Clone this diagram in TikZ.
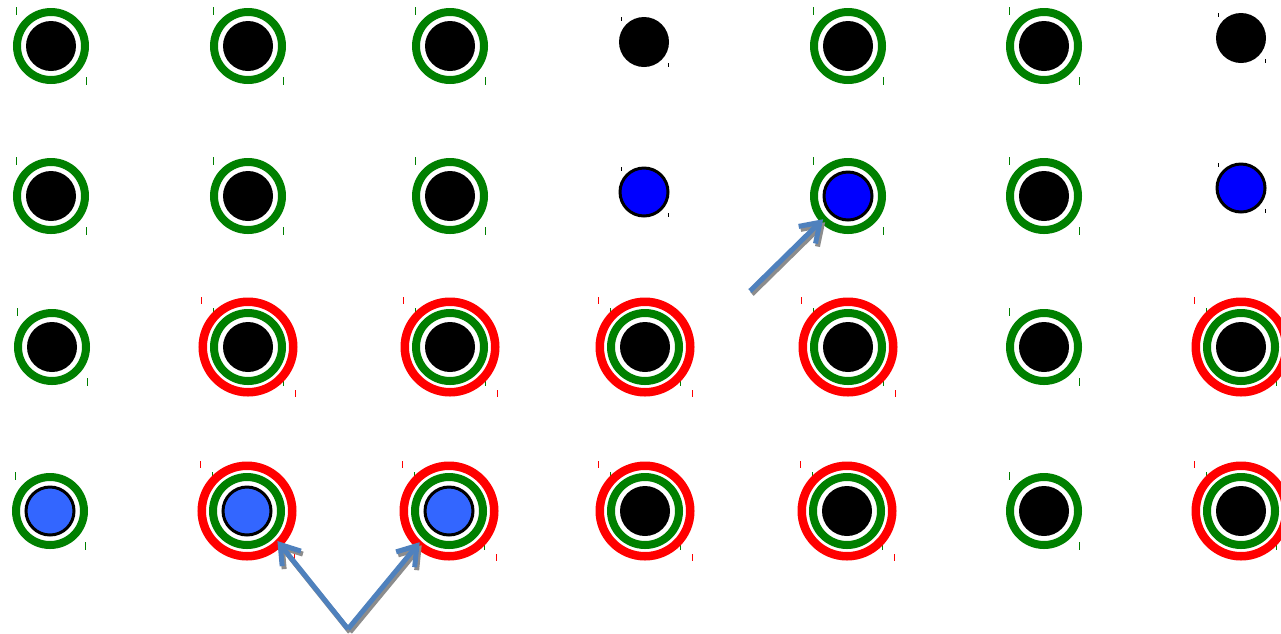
\documentclass[tikz,border=0pt]{standalone}
\usetikzlibrary{arrows.meta}
\definecolor{ringgreen}{RGB}{0,128,0}
\definecolor{ringred}{RGB}{255,0,0}
\definecolor{diskblue}{RGB}{0,0,255}
\definecolor{disklight}{RGB}{51,102,255}
\definecolor{arrowblue}{RGB}{79,129,189}
\definecolor{shadowgray}{RGB}{140,140,140}
\tikzset{
  greenring/.style={circle, draw=ringgreen, line width=8pt, minimum size=68pt, inner sep=0pt, outer sep=0pt},
  redring/.style={circle, draw=ringred, line width=8.5pt, minimum size=90.5pt, inner sep=0pt, outer sep=0pt},
  blackdisk/.style={circle, fill=black, minimum size=50pt, inner sep=0pt, outer sep=0pt},
  bluedisk/.style={circle, fill=diskblue, draw=black, line width=3pt, minimum size=48pt, inner sep=0pt, outer sep=0pt},
  lightdisk/.style={circle, fill=disklight, draw=black, line width=3pt, minimum size=48pt, inner sep=0pt, outer sep=0pt},
  gtick/.style={ringgreen, line width=1pt},
  rtick/.style={ringred, line width=1pt},
  ktick/.style={black, line width=0.8pt},
  pointer/.style={arrowblue, line width=5pt, -{Straight Barb[length=18pt, width=24pt]}},
  pointershadow/.style={shadowgray, line width=5pt, -{Straight Barb[length=18pt, width=24pt]}, transform canvas={shift={(2pt,-3pt)}}},
}
\newcommand\mkgreen[3]{%
  \draw[gtick] ([shift={(-35,-39)}]#2,#3) -- ++(0,8);
  \draw[gtick] ([shift={(35,31)}]#2,#3) -- ++(0,8);
  \node[greenring] (g#1) at (#2,#3) {};}
\newcommand\mkred[3]{%
  \draw[rtick] ([shift={(-47,-50)}]#2,#3) -- ++(0,7);
  \draw[rtick] ([shift={(47.5,43)}]#2,#3) -- ++(0,7);
  \node[redring] (r#1) at (#2,#3) {};}
\newcommand\mkdisk[4]{\node[#4] (d#1) at (#2,#3) {};}
\newcommand\mkticks[2]{%
  \draw[ktick] ([shift={(-22.6,-25)}]#1,#2) -- ++(0,4);
  \draw[ktick] ([shift={(24.4,21)}]#1,#2) -- ++(0,4);}
\begin{document}
\begin{tikzpicture}[x=1pt,y=-1pt]
\useasboundingbox (0,0) rectangle (1281,633);
% green ring + black disk
\foreach \n/\x/\y in {11/51/46, 21/248/46, 31/450/46, 51/848/46, 61/1044/46,
  12/51/196, 22/248/196, 32/450/196, 62/1044/196,
  13/52/347, 63/1044/347, 64/1044/511}{
  \mkgreen{\n}{\x}{\y}
  \mkdisk{\n}{\x}{\y}{blackdisk}
}
% green ring + blue disk
\mkgreen{52}{848}{196}
\mkdisk{52}{848}{196}{bluedisk}
% green ring + light blue disk
\mkgreen{14}{50}{511}
\mkdisk{14}{50}{511}{lightdisk}
% red + green + light blue
\foreach \n/\x/\y in {24/247/511, 34/449/511}{
  \mkgreen{\n}{\x}{\y}
  \mkred{\n}{\x}{\y}
  \mkdisk{\n}{\x}{\y}{lightdisk}
}
% red + green + black
\foreach \n/\x/\y in {23/248/347, 33/450/347, 43/645/347, 53/848/347, 73/1241/347,
  44/645/511, 54/847/511, 74/1241/511}{
  \mkgreen{\n}{\x}{\y}
  \mkred{\n}{\x}{\y}
  \mkdisk{\n}{\x}{\y}{blackdisk}
}
% lone disks
\mkticks{644}{42}\mkdisk{41}{644}{42}{blackdisk}
\mkticks{1241}{38}\mkdisk{71}{1241}{38}{blackdisk}
\mkticks{644}{192}\mkdisk{42}{644}{192}{bluedisk}
\mkticks{1241}{188}\mkdisk{72}{1241}{188}{bluedisk}
% arrows
\coordinate (tailA) at (750,291);
\coordinate (tailB) at (348,629);
\draw[pointershadow] (tailA) -- (g52.223);
\draw[pointer] (tailA) -- (g52.223);
\draw[pointershadow, shorten >=-2.5pt] (tailB) -- (r24.315);
\draw[pointer, shorten >=-2.5pt] (tailB) -- (r24.315);
\draw[pointershadow, shorten >=-2.5pt] (tailB) -- (r34.227);
\draw[pointer, shorten >=-2.5pt] (tailB) -- (r34.227);
\end{tikzpicture}
\end{document}
